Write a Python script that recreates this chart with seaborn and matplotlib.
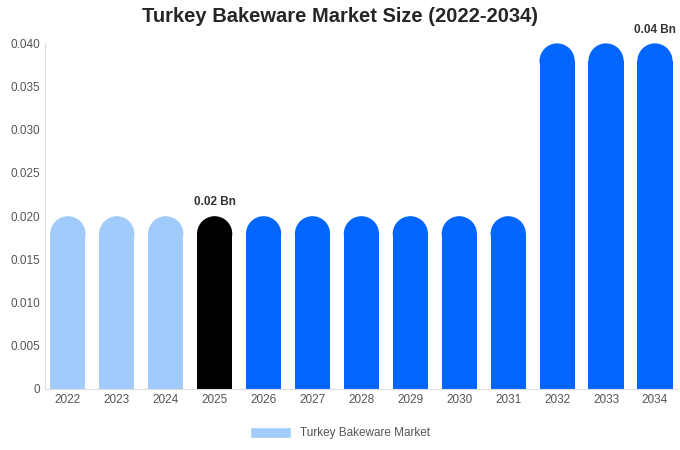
import matplotlib
matplotlib.use("Agg")
import matplotlib.pyplot as plt
import seaborn as sns
import pandas as pd
from matplotlib.patches import Ellipse, Patch

years = ["2022","2023","2024","2025","2026","2027","2028","2029","2030","2031","2032","2033","2034"]
values = [0.02]*10 + [0.04]*3
colors = ["#a0cbfa"]*3 + ["#000000"] + ["#0066ff"]*9
labels = {"2025": "0.02 Bn", "2034": "0.04 Bn"}

sns.set_theme(style="white")
plt.rcParams['font.family'] = ['Liberation Sans', 'DejaVu Sans']
fig = plt.figure(figsize=(6.8, 4.5), dpi=100)
ax = fig.add_axes([0.066, 0.1356, 0.931, 0.768])
df = pd.DataFrame({"year": years, "value": values})
sns.barplot(data=df, x="year", y="value", hue="year", palette=colors, legend=False,
            width=0.72, ax=ax, saturation=1)
ax.set_ylim(0, 0.04)
ax.set_xlim(-0.47, 12.47)
fig.canvas.draw()
# rounded tops
inv = ax.transData.inverted()
for p in list(ax.patches):
    x, w, h = p.get_x(), p.get_width(), p.get_height()
    wpx = ax.transData.transform((x + w, 0))[0] - ax.transData.transform((x, 0))[0]
    ry = inv.transform((0, ax.transData.transform((0, 0))[1] + wpx / 2))[1]
    p.set_height(h - ry)
    p.set_edgecolor("none")
    ax.add_patch(Ellipse((x + w / 2, h - ry), w, 2 * ry, facecolor=p.get_facecolor(), edgecolor="none"))
for i, y in enumerate(years):
    if y in labels:
        ax.text(i, values[i] + 0.0009, labels[y], ha="center", va="bottom", fontsize=8.5,
                fontweight="bold", color="#333333")
ax.set_yticks([0, 0.005, 0.01, 0.015, 0.02, 0.025, 0.03, 0.035, 0.04])
ax.set_yticklabels(["0", "0.005", "0.010", "0.015", "0.020", "0.025", "0.030", "0.035", "0.040"])
ax.tick_params(axis="both", labelsize=8.5, colors="#555555", length=0)
ax.set_xlabel(""); ax.set_ylabel("")
for s in ["top", "right"]:
    ax.spines[s].set_visible(False)
for s in ["left", "bottom"]:
    ax.spines[s].set_color("#dddddd"); ax.spines[s].set_linewidth(0.8)
fig.suptitle("Turkey Bakeware Market Size (2022-2034)", fontsize=14.5, fontweight="bold", y=0.985)
fig.legend(handles=[Patch(facecolor="#a0cbfa", label="Turkey Bakeware Market")],
           loc="lower center", bbox_to_anchor=(0.5, 0.0), frameon=False, fontsize=8.5,
           handlelength=3.5, handleheight=1.0, labelcolor="#555555")
fig.savefig("out.png", dpi=100)
